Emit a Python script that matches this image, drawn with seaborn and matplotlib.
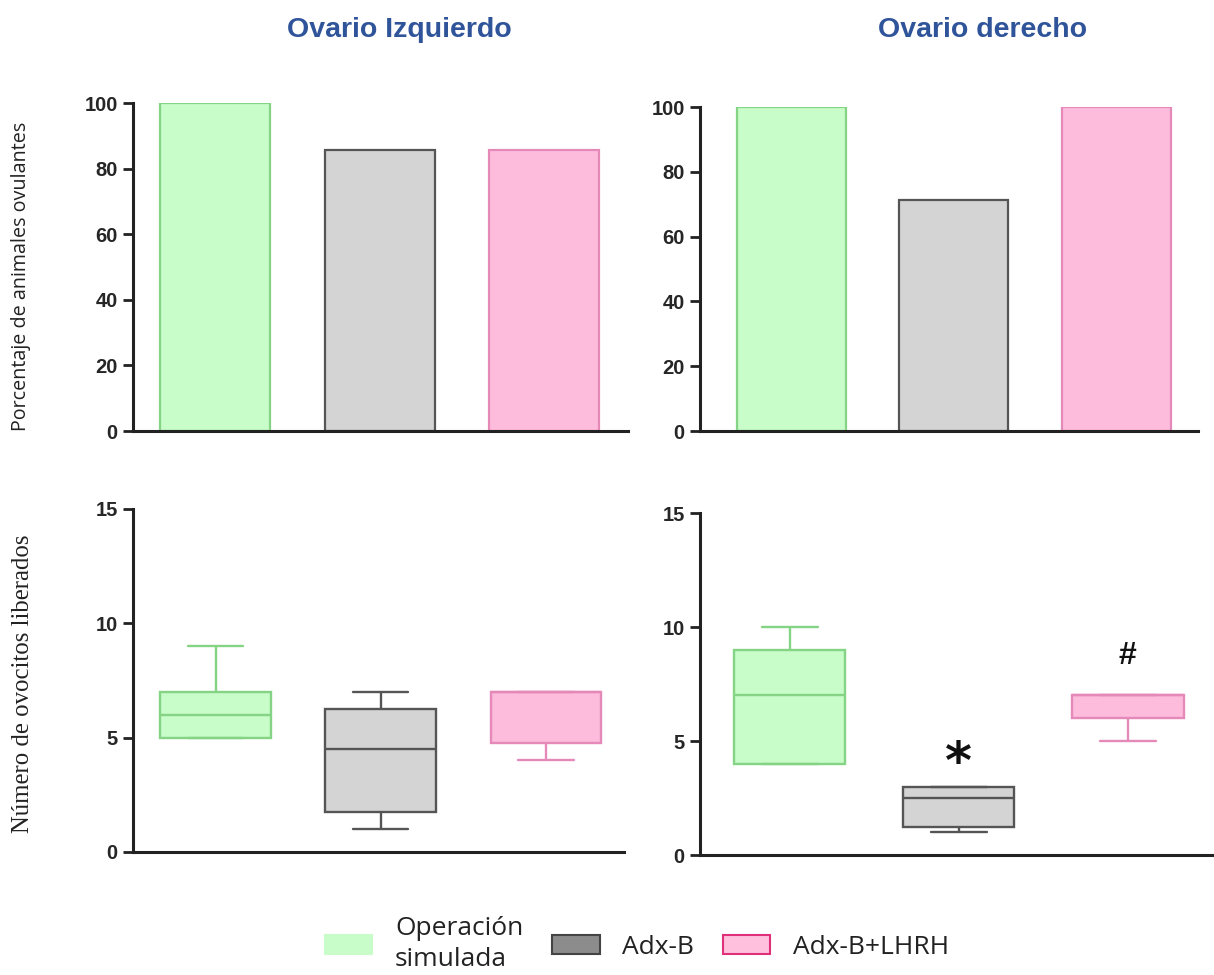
import matplotlib
matplotlib.use("Agg")
import matplotlib.pyplot as plt
import pandas as pd
import seaborn as sns
from matplotlib.patches import Patch

# --- data -------------------------------------------------------------------
GROUPS = ["Operación simulada", "Adx-B", "Adx-B+LHRH"]
LEGEND_LABELS = ["Operación\nsimulada", "Adx-B", "Adx-B+LHRH"]
PANEL_TITLES = ["Ovario Izquierdo", "Ovario derecho"]

# percentage of ovulating animals
pct_left = [100, 85.7, 85.7]
pct_right = [100, 71.4, 100]

# oocytes released: min, Q1, median, Q3, max for every box
ovo_left_sham = [5, 5, 6, 7, 9]
ovo_left_adx = [1, 1.75, 4.5, 6.25, 7]
ovo_left_lhrh = [4, 4.75, 7, 7, 7]
ovo_right_sham = [4, 4, 7, 9, 10]
ovo_right_adx = [1, 1.25, 2.5, 3, 3]
ovo_right_lhrh = [5, 6, 7, 7, 7]

FILLS = ["#c8fcc8", "#d4d4d4", "#fdbcdc"]
EDGES = ["#85d485", "#555555", "#e58ab8"]
LEGEND_FILLS = ["#c8fcc8", "#8c8c8c", "#ffc0de"]
LEGEND_EDGES = ["#c8fcc8", "#444444", "#e0307a"]
TITLE_COLOR = "#2f549a"

sns.set_theme(style="white")
plt.rcParams["font.family"] = ["Liberation Sans", "DejaVu Sans"]

fig = plt.figure(figsize=(12.14, 9.75), dpi=100)

ax_tl = fig.add_axes([0.1096, 0.5579, 0.4077, 0.3364])
ax_tr = fig.add_axes([0.5766, 0.5579, 0.4100, 0.3323])
ax_bl = fig.add_axes([0.1096, 0.1262, 0.4040, 0.3518])
ax_br = fig.add_axes([0.5766, 0.1230, 0.4234, 0.3508])


def style_axis(ax, ymax, yticks, xlim):
    ax.set_ylim(0, ymax)
    ax.set_xlim(*xlim)
    ax.set_yticks(yticks)
    ax.set_yticklabels([str(t) for t in yticks], fontsize=14.5, fontweight="bold")
    ax.set_xticks([])
    ax.set_xlabel("")
    ax.set_ylabel("")
    for side in ["top", "right"]:
        ax.spines[side].set_visible(False)
    for side in ["left", "bottom"]:
        ax.spines[side].set_linewidth(2.2)
        ax.spines[side].set_color("#222222")
    ax.tick_params(axis="y", length=7, width=2, color="#222222", pad=4,
                   left=True, direction="out")


def draw_bars(ax, values):
    frame = pd.DataFrame({"grupo": GROUPS, "valor": values})
    sns.barplot(data=frame, x="grupo", y="valor", order=GROUPS, hue="grupo",
                palette=FILLS, saturation=1, width=0.67, legend=False, ax=ax)
    for patch, edge in zip(ax.patches, EDGES):
        patch.set_edgecolor(edge)
        patch.set_linewidth(1.6)


def draw_boxes(ax, samples, width):
    for name, sample, fill, edge in zip(GROUPS, samples, FILLS, EDGES):
        frame = pd.DataFrame({"grupo": name, "valor": sample})
        sns.boxplot(data=frame, x="grupo", y="valor", order=GROUPS,
                    color=fill, linecolor=edge, linewidth=1.7, width=width,
                    saturation=1, whis=(0, 100), showfliers=False, ax=ax)


draw_bars(ax_tl, pct_left)
draw_bars(ax_tr, pct_right)
style_axis(ax_tl, 100, [0, 20, 40, 60, 80, 100], (-0.5, 2.51))
style_axis(ax_tr, 100, [0, 20, 40, 60, 80, 100], (-0.56, 2.5))

draw_boxes(ax_bl, [ovo_left_sham, ovo_left_adx, ovo_left_lhrh], 0.67)
draw_boxes(ax_br, [ovo_right_sham, ovo_right_adx, ovo_right_lhrh], 0.66)
style_axis(ax_bl, 15, [0, 5, 10, 15], (-0.5, 2.47))
style_axis(ax_br, 15, [0, 5, 10, 15], (-0.53, 2.51))

# significance marks
ax_br.text(1, 4.0, "*", ha="center", va="center", fontsize=37,
           fontweight="bold", family=["DejaVu Sans"], color="#111111")
ax_br.text(2, 8.75, "#", ha="center", va="center", fontsize=23,
           fontweight="bold", color="#111111")

# panel titles
fig.text(399 / 1214, 1 - 30 / 975, PANEL_TITLES[0], ha="center", va="center",
         fontsize=20.5, fontweight="bold", color=TITLE_COLOR)
fig.text(983 / 1214, 1 - 30 / 975, PANEL_TITLES[1], ha="center", va="center",
         fontsize=20.5, fontweight="bold", color=TITLE_COLOR)

# y labels
fig.text(21 / 1214, 1 - 276 / 975, "Porcentaje de animales ovulantes",
         rotation=90, ha="center", va="center", fontsize=14.2,
         family=["Open Sans", "DejaVu Sans"], color="#222222")
fig.text(23 / 1214, 1 - 684 / 975, "Número de ovocitos liberados",
         rotation=90, ha="center", va="center", fontsize=17.8,
         family=["Liberation Serif", "DejaVu Serif"], color="#222222")

handles = [Patch(facecolor=f, edgecolor=e, linewidth=1.5)
           for f, e in zip(LEGEND_FILLS, LEGEND_EDGES)]
leg = fig.legend(handles, LEGEND_LABELS, loc="center", ncol=3,
                 bbox_to_anchor=(637 / 1214, 1 - 944 / 975), frameon=False,
                 handlelength=1.8, handleheight=0.7, columnspacing=1.1,
                 handletextpad=0.85, borderpad=0,
                 prop={"family": ["Open Sans", "DejaVu Sans"], "size": 19})
for txt in leg.get_texts():
    txt.set_linespacing(1.3)
    txt.set_color("#222222")

fig.savefig("out.png", dpi=100, facecolor="white")
